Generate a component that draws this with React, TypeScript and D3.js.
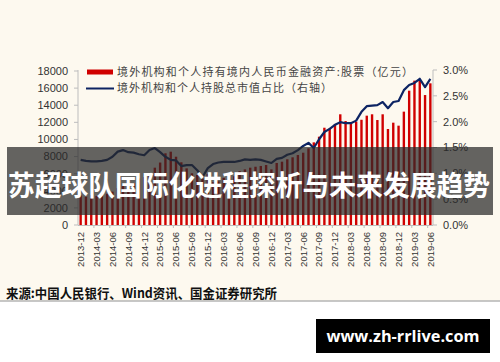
import React from "react";
import * as d3 from "d3";

// months 2013-12 .. 2019-06
const months = [
  "2013-12",
  "2014-01", "2014-02", "2014-03", "2014-04", "2014-05", "2014-06", "2014-07", "2014-08", "2014-09", "2014-10", "2014-11", "2014-12",
  "2015-01", "2015-02", "2015-03", "2015-04", "2015-05", "2015-06", "2015-07", "2015-08", "2015-09", "2015-10", "2015-11", "2015-12",
  "2016-01", "2016-02", "2016-03", "2016-04", "2016-05", "2016-06", "2016-07", "2016-08", "2016-09", "2016-10", "2016-11", "2016-12",
  "2017-01", "2017-02", "2017-03", "2017-04", "2017-05", "2017-06", "2017-07", "2017-08", "2017-09", "2017-10", "2017-11", "2017-12",
  "2018-01", "2018-02", "2018-03", "2018-04", "2018-05", "2018-06", "2018-07", "2018-08", "2018-09", "2018-10", "2018-11", "2018-12",
  "2019-01", "2019-02", "2019-03", "2019-04", "2019-05", "2019-06",
];

// 股票（亿元）
const stockValues = [
  3450,
  3300, 3500, 3400, 3450, 3650, 3900, 4300, 4550, 4600, 4900, 5450, 5600,
  6000, 6700, 7300, 8380, 8570, 7980, 7330, 6620, 6040, 5850, 5400, 5980,
  5000, 5100, 5500, 5600, 5700, 6300, 6500, 6700, 6810, 6900, 7010, 6500,
  7250, 7400, 7680, 7910, 8180, 8450, 8960, 9660, 10320, 11370, 11300, 11800,
  12940, 12150, 11960, 12080, 12300, 12780, 12940, 12270, 12940, 11220, 11960, 11610,
  13250, 15700, 16870, 16950, 15190, 16560,
];

// 持股总市值占比（%，右轴）
const shareValues = [
  1.26,
  1.24, 1.23, 1.23, 1.24, 1.26, 1.32, 1.42, 1.45, 1.41, 1.40, 1.37, 1.35,
  1.45, 1.49, 1.41, 1.32, 1.26, 1.25, 1.14, 1.16, 1.16, 1.06, 0.93, 1.10,
  1.18, 1.21, 1.22, 1.22, 1.22, 1.24, 1.27, 1.26, 1.27, 1.26, 1.23, 1.20,
  1.28, 1.30, 1.36, 1.39, 1.45, 1.53, 1.59, 1.49, 1.66, 1.80, 1.86, 1.94,
  1.99, 1.97, 1.97, 2.02, 2.19, 2.30, 2.31, 2.32, 2.38, 2.26, 2.38, 2.40,
  2.61, 2.71, 2.75, 2.83, 2.67, 2.83,
];

const tickMonths = [
  "2013-12", "2014-03", "2014-06", "2014-09", "2014-12", "2015-03", "2015-06", "2015-09",
  "2015-12", "2016-03", "2016-06", "2016-09", "2016-12", "2017-03", "2017-06", "2017-09",
  "2017-12", "2018-03", "2018-06", "2018-09", "2018-12", "2019-03", "2019-06",
];
const leftTicks = [0, 2000, 4000, 6000, 8000, 10000, 12000, 14000, 16000, 18000];
const rightTicks = [0, 0.5, 1.0, 1.5, 2.0, 2.5, 3.0];

const legendBar = "境外机构和个人持有境内人民币金融资产:股票（亿元）";
const legendLine = "境外机构和个人持股总市值占比（右轴）";
const sourceText = "来源:中国人民银行、Wind资讯、国金证券研究所";
const bannerText = "苏超球队国际化进程探析与未来发展趋势";
const watermark = "www.zh-rrlive.com";

const W = 500;
const H = 362;
const plot = { left: 78, right: 433, top: 70, bottom: 225 };

export default function App() {
  const x = d3.scalePoint<string>().domain(months).range([plot.left, plot.right]).padding(0.5);
  const step = x.step();
  const yL = d3.scaleLinear().domain([0, 18000]).range([plot.bottom, plot.top + 1]);
  const yR = d3.scaleLinear().domain([0, 3.0]).range([plot.bottom, plot.top]);
  const barW = step * 0.45;

  const line = d3
    .line<number>()
    .x((_, i) => x(months[i]) as number)
    .y((d) => yR(d));

  const axisColor = "#bdbdbd";
  const tickFont = "'Liberation Sans', Arial, sans-serif";
  const cjkFont = "'Noto Sans CJK SC', 'Noto Sans', sans-serif";

  return (
    <svg
      width={W}
      height={H}
      viewBox={`0 0 ${W} ${H}`}
      style={{ position: "fixed", left: 0, top: 0, display: "block" }}
    >
      <rect x={0} y={0} width={W} height={H} fill="#ffffff" />
      <rect x={0} y={0} width={W} height={301} fill="#fdf9ef" />

      {/* bars */}
      {stockValues.map((v, i) => (
        <rect
          key={months[i]}
          x={(x(months[i]) as number) - barW / 2}
          y={yL(v)}
          width={barW}
          height={yL(0) - yL(v)}
          fill="#d00000"
        />
      ))}

      {/* share line */}
      <path d={line(shareValues) ?? ""} fill="none" stroke="#0d2463" strokeWidth={2.2} strokeLinejoin="round" />

      {/* axes */}
      <line x1={plot.left} x2={plot.left} y1={plot.top} y2={plot.bottom} stroke={axisColor} />
      <line x1={plot.right} x2={plot.right} y1={plot.top} y2={plot.bottom} stroke={axisColor} />
      <line x1={plot.left} x2={plot.right} y1={plot.bottom + 0.5} y2={plot.bottom + 0.5} stroke={axisColor} />
      {leftTicks.map((t) => (
        <g key={"l" + t}>
          <line x1={plot.left - 4} x2={plot.left} y1={yL(t)} y2={yL(t)} stroke={axisColor} />
          <text x={68} y={yL(t)} dy="0.35em" textAnchor="end" fontFamily={tickFont} fontSize={11} fill="#333">
            {t}
          </text>
        </g>
      ))}
      {rightTicks.map((t) => (
        <g key={"r" + t}>
          <line x1={plot.right} x2={plot.right + 4} y1={yR(t)} y2={yR(t)} stroke={axisColor} />
          <text x={443} y={yR(t)} dy="0.35em" textAnchor="start" fontFamily={tickFont} fontSize={11} fill="#333">
            {t.toFixed(1) + "%"}
          </text>
        </g>
      ))}
      {tickMonths.map((m) => {
        const cx = x(m) as number;
        const edge = cx + 2.5 * step;
        return (
          <g key={"x" + m}>
            {m !== "2019-06" && (
              <line x1={edge} x2={edge} y1={plot.bottom} y2={plot.bottom + 3} stroke={axisColor} />
            )}
            <text
              transform={`translate(${cx},232) rotate(-90)`}
              dy="0.35em"
              textAnchor="end"
              fontFamily={tickFont}
              fontSize={9.5}
              fill="#333"
            >
              {m}
            </text>
          </g>
        );
      })}

      {/* legend */}
      <rect x={87} y={69.5} width={26} height={5} fill="#d00000" />
      <text x={117} y={72} dy="0.35em" fontFamily={cjkFont} fontSize={11} fill="#444" textLength={296} lengthAdjust="spacing">
        {legendBar}
      </text>
      <line x1={86} x2={114} y1={88.5} y2={88.5} stroke="#0d2463" strokeWidth={2} />
      <text x={117} y={88.5} dy="0.35em" fontFamily={cjkFont} fontSize={11} fill="#444" textLength={215} lengthAdjust="spacing">
        {legendLine}
      </text>

      {/* banner overlay */}
      <rect x={7} y={147} width={486} height={68} fill="rgba(40,40,40,0.72)" />
      <text
        x={8}
        y={186}
        dy="0.36em"
        fontFamily={cjkFont}
        fontWeight={700}
        fontSize={28}
        fill="#ffffff"
        textLength={482}
        lengthAdjust="spacingAndGlyphs"
      >
        {bannerText}
      </text>

      {/* source */}
      <text x={6} y={293} dy="0.35em" fontFamily={cjkFont} fontWeight={700} fontSize={13} fill="#111" textLength={271} lengthAdjust="spacingAndGlyphs">
        {sourceText}
      </text>
      <line x1={0} x2={W} y1={301} y2={301} stroke="#b4b4b4" strokeWidth={1.5} />

      {/* watermark */}
      <rect x={316} y={319} width={174} height={34} fill="#000000" />
      <text
        x={403}
        y={336}
        dy="0.35em"
        textAnchor="middle"
        fontFamily="'Open Sans', sans-serif"
        fontWeight={700}
        fontSize={16}
        fill="#ffffff"
        textLength={153}
        lengthAdjust="spacingAndGlyphs"
      >
        {watermark}
      </text>
    </svg>
  );
}
